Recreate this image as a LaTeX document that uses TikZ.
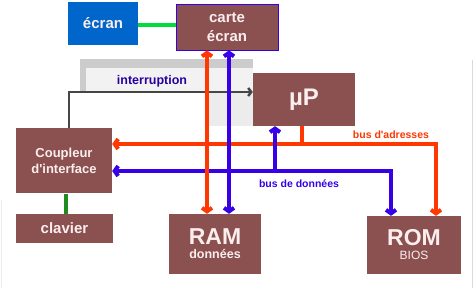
\documentclass[tikz,border=0pt]{standalone}
\usepackage{fontspec}
\setmainfont{Liberation Sans}[Ligatures=TeXOff]
\usetikzlibrary{arrows.meta}
\definecolor{boxbrown}{RGB}{139,80,80}
\definecolor{boxtext}{RGB}{252,238,238}
\definecolor{ecranblue}{RGB}{0,102,204}
\definecolor{busred}{RGB}{255,55,0}
\definecolor{busblue}{RGB}{55,0,230}
\definecolor{lblblue}{RGB}{40,0,160}
\definecolor{greenA}{RGB}{0,220,60}
\definecolor{greenB}{RGB}{30,140,30}
\definecolor{darkline}{RGB}{70,70,70}
\tikzset{
  box/.style={fill=boxbrown, text=boxtext, font=\bfseries, inner sep=0pt, align=center},
  redbus/.style={draw=busred, line width=4pt},
  bluebus/.style={draw=busblue, line width=4pt},
  tip/.style={-{Straight Barb[length=3.5pt,width=10pt]}},
  tips/.style={{Straight Barb[length=3.5pt,width=10pt]}-{Straight Barb[length=3.5pt,width=10pt]}},
  lbl/.style={font=\bfseries, inner sep=0pt}
}
\begin{document}
\begin{tikzpicture}[x=1pt,y=-1pt]
\useasboundingbox[fill=white] (0,0) rectangle (473,288);
% background grey band
\fill[gray!40] (80,59) rectangle (253,92);
\fill[gray!10] (86,68) rectangle (253,91);
\fill[gray!15] (207,92) rectangle (253,126);
\draw[gray!30, line width=1pt] (472,60) -- (472,288);
\draw[gray!15, line width=1pt] (1,200) -- (1,288);
% boxes
\node[box, fill=ecranblue, minimum width=70pt, minimum height=43pt, font=\bfseries\fontsize{15}{18}\selectfont] (ecran) at (103,23.5) {écran};
\node[box, draw=busblue, line width=0.8pt, minimum width=102pt, minimum height=46pt, font=\bfseries\fontsize{15}{19}\selectfont] (carte) at (227,27) {carte\\écran};
\node[box, minimum width=102pt, minimum height=53pt, font=\bfseries\fontsize{24}{28}\selectfont] (up) at (304,99.5) {µP};
\node[box, minimum width=96pt, minimum height=65pt, font=\bfseries\fontsize{13}{16}\selectfont] (coupleur) at (64,161) {Coupleur\\d'interface};
\node[box, minimum width=97pt, minimum height=29pt, font=\bfseries\fontsize{15}{18}\selectfont] (clavier) at (64.5,228.5) {clavier};
\node[box, minimum width=92pt, minimum height=60pt] (ram) at (215,244) {\fontsize{23}{26}\selectfont RAM\\[2pt]\fontsize{12.5}{14}\selectfont données};
\node[box, minimum width=94pt, minimum height=58pt] (rom) at (414,245) {\fontsize{23}{26}\selectfont ROM\\[2pt]\fontsize{12}{14}\mdseries\selectfont BIOS};
% coordinates
\coordinate (rx) at (207,0);
\coordinate (bx) at (229,0);
\coordinate (ra) at (436,144);
\coordinate (bb) at (391,171);
\coordinate (upr) at (302,144);
\coordinate (upb) at (275,171);
\coordinate (ic) at (69,92);
% connectors
\draw[greenA, line width=4pt] (ecran.east |- 0,25) -- (carte.west |- 0,25);
\draw[greenB, line width=4pt] (coupleur.south -| 66,0) -- (clavier.north -| 66,0);
\draw[darkline, line width=2.5pt, -{Straight Barb[length=3pt,width=8pt]}] (coupleur.north -| ic) -- (ic) -- (up.west |- ic);
\draw[redbus, tips] (coupleur.east |- ra) -- (ra) -- (rom.north -| ra);
\draw[redbus] (up.south -| upr) -- (upr);
\draw[bluebus, tips] (coupleur.east |- bb) -- (bb) -- (rom.north -| bb);
\draw[bluebus, tip] (upb) -- (up.south -| upb);
\draw[redbus, tips] (ram.north -| rx) -- (carte.south -| rx);
\draw[bluebus, tips] (ram.north -| bx) -- (carte.south -| bx);
% labels
\node[lbl, text=lblblue, font=\bfseries\fontsize{12.5}{14}\selectfont] (lint) at (152,81) {interruption};
\node[lbl, text=busred, font=\bfseries\fontsize{10.5}{12}\selectfont] (ladr) at (391,135) {bus d'adresses};
\node[lbl, text=busblue, font=\bfseries\fontsize{10.5}{12}\selectfont] (ldon) at (299,184) {bus de données};
\end{tikzpicture}
\end{document}
